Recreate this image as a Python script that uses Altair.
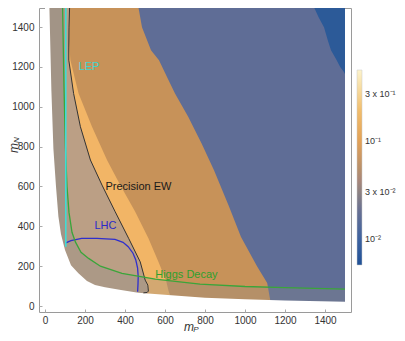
import altair as alt
import pandas as pd

# ---------------- data ----------------
M_MIN, M_MAX = 0, 1500
X_TICKS = [0, 200, 400, 600, 800, 1000, 1200, 1400]
Y_TICKS = [0, 200, 400, 600, 800, 1000, 1200, 1400]

# lower edge of the scanned domain (white below)
LOW_X = [0, 22, 32, 42, 55, 67, 80, 100, 130, 167, 210, 250, 300, 380, 466, 615, 800, 1000, 1200, 1500]
LOW_Y = [1500, 1500, 1080, 790, 600, 450, 360, 281, 205, 164, 125, 105, 94, 80, 67, 55, 42, 34, 28, 21]

# right edge of the orange (3e-2 .. 1e-1) band
OR_Y = [0, 30, 115, 200, 346, 500, 682, 816, 950, 1067, 1150, 1234, 1284, 1400, 1500]
OR_X = [1130, 1126, 1111, 1060, 980, 920, 845, 783, 716, 650, 610, 570, 530, 485, 467]

# light orange (> 1e-1) band
BAND_Y = [55, 75, 130, 222, 340, 473, 607, 733, 900, 1067, 1234, 1330]
BAND_L = [515, 517, 501, 476, 418, 351, 285, 227, 177, 143, 119, 120]
BAND_R = [625, 618, 605, 567, 517, 451, 376, 310, 235, 168, 127, 120]

# dark blue patch (< 1e-2), top right
DB_Y = [1165, 1178, 1200, 1240, 1284, 1330, 1400, 1450, 1500]
DB_X = [1500, 1492, 1476, 1455, 1430, 1415, 1395, 1368, 1345]

# constraint curves
PEW_Y = [1500, 1400, 1300, 1234, 1067, 900, 733, 607, 473, 340, 222, 130, 105, 75, 68, 66]
PEW_X = [123, 120, 119, 119, 143, 177, 227, 285, 351, 418, 476, 501, 514, 517, 510, 492]

LHC_X = [104, 130, 183, 260, 350, 390, 416, 440, 454, 463, 466, 465, 463]
LHC_Y = [317, 328, 340, 340, 335, 320, 298, 265, 231, 190, 147, 110, 72]

H_X = [88, 95, 102, 110, 120, 135, 152, 180, 218, 277, 385, 551, 775, 1000, 1200, 1500]
H_Y = [1500, 1100, 800, 600, 470, 370, 322, 270, 239, 200, 164, 135, 110, 98, 92, 85]

LEP_X = 104
LEP_Y = [297, 1500]

LABELS = ["LEP", "Precision EW", "LHC", "Higgs Decay"]
LABEL_X = [168, 302, 247, 551]
LABEL_Y = [1200, 597, 401, 155]
LABEL_C = ["#3fd6d2", "#1a1a1a", "#2a2ac8", "#2ea02e"]

# colour bar
CB_TICKS = [0.01, 0.03, 0.1, 0.3]
CB_STOPS = [0.0055, 0.01, 0.02, 0.03, 0.05, 0.1, 0.2, 0.3, 0.52]
CB_COLORS = ["#1f5197", "#3d62a0", "#6a7192", "#8d8282", "#b68f6c",
             "#e3a257", "#f1bd6c", "#f6d594", "#fdf3cc"]

# ---------------- styling ----------------
BLUEGREY = "#5f6d96"
DARKBLUE = "#2c5a98"
ORANGE = "#c79259"
LIGHT = "#f2b566"
FONT = "Liberation Sans"

xs = alt.Scale(domain=[-30, 1530], nice=False, zero=False)
ys = alt.Scale(domain=[-30, 1496], nice=False, zero=False)

xaxis = alt.Axis(values=X_TICKS, title=None, grid=False, domain=False, format="d",
                 offset=-3, tickSize=3, tickColor="#aaa", labelPadding=3,
                 labelFontSize=10, labelColor="#333", labelFont=FONT)
yaxis = alt.Axis(values=Y_TICKS, title=None, grid=False, domain=False, format="d",
                 offset=-3, tickSize=3, tickColor="#aaa", labelPadding=5,
                 labelFontSize=10, labelColor="#333", labelFont=FONT)


def X(f, **kw):
    return alt.X(f, scale=xs, axis=xaxis, **kw)


def Y(f, **kw):
    return alt.Y(f, scale=ys, axis=yaxis, **kw)


one = pd.DataFrame({"a": [M_MIN], "b": [M_MAX]})

base = alt.Chart(one).mark_rect(color=BLUEGREY, clip=True).encode(
    x=X("a:Q"), x2="b:Q", y=Y("a:Q"), y2="b:Q")

orange = alt.Chart(pd.DataFrame({"y": OR_Y, "x": OR_X})).mark_area(
    orient="horizontal", color=ORANGE, clip=True).encode(
    y=Y("y:Q"), x=X("x:Q"), x2=alt.datum(M_MIN))

band = alt.Chart(pd.DataFrame({"y": BAND_Y, "l": BAND_L, "r": BAND_R})).mark_area(
    orient="horizontal", color=LIGHT, clip=True).encode(
    y=Y("y:Q"), x=X("l:Q"), x2="r:Q")

dark = alt.Chart(pd.DataFrame({"y": DB_Y, "x": DB_X})).mark_area(
    orient="horizontal", color=DARKBLUE, clip=True).encode(
    y=Y("y:Q"), x=X("x:Q"), x2=alt.datum(M_MAX))

# translucent excluded regions
pew_fill = alt.Chart(pd.DataFrame({"y": PEW_Y, "x": PEW_X})).mark_area(
    orient="horizontal", color="#a8b6cc", opacity=0.38, clip=True).encode(
    y=Y("y:Q"), x=X("x:Q"), x2=alt.datum(M_MIN))

hx = [M_MIN] + H_X
hy = [H_Y[0]] + H_Y
higgs_fill = alt.Chart(pd.DataFrame({"x": hx, "y": hy})).mark_area(
    color="#8a8a8a", opacity=0.3, clip=True).encode(
    x=X("x:Q"), y=Y("y:Q"), y2=alt.datum(M_MIN))

lhc_fill = alt.Chart(pd.DataFrame({"x": LHC_X, "y": LHC_Y, "i": range(len(LHC_X))})).mark_area(
    color="#e6e4dc", opacity=0.3, clip=True).encode(
    x=X("x:Q"), y=Y("y:Q"), y2=alt.datum(M_MIN), order="i:Q")

lep_fill = alt.Chart(pd.DataFrame({"x": [M_MIN], "x2": [LEP_X], "y": [LEP_Y[0]], "y2": [LEP_Y[1]]})).mark_rect(
    color="#8a8a8a", opacity=0.28, clip=True).encode(
    x=X("x:Q"), x2="x2:Q", y=Y("y:Q"), y2="y2:Q")

mask = alt.Chart(pd.DataFrame({"x": LOW_X, "y": LOW_Y})).mark_area(
    color="white", clip=True).encode(
    x=X("x:Q"), y=Y("y:Q"), y2=alt.datum(M_MIN))

# curves
pew_line = alt.Chart(pd.DataFrame({"y": PEW_Y, "x": PEW_X, "i": range(len(PEW_Y))})).mark_line(
    color="#333333", strokeWidth=1, clip=True).encode(
    x=X("x:Q"), y=Y("y:Q"), order="i:Q")
lhc_line = alt.Chart(pd.DataFrame({"x": LHC_X, "y": LHC_Y, "i": range(len(LHC_X))})).mark_line(
    color="#2f2fcc", strokeWidth=1.3, clip=True).encode(
    x=X("x:Q"), y=Y("y:Q"), order="i:Q")
higgs_line = alt.Chart(pd.DataFrame({"x": H_X, "y": H_Y, "i": range(len(H_X))})).mark_line(
    color="#3aa53a", strokeWidth=1.3, clip=True).encode(
    x=X("x:Q"), y=Y("y:Q"), order="i:Q")
lep_line = alt.Chart(pd.DataFrame({"x": [LEP_X, LEP_X], "y": LEP_Y, "i": [0, 1]})).mark_line(
    color="#40dcd4", strokeWidth=1.6, clip=True).encode(
    x=X("x:Q"), y=Y("y:Q"), order="i:Q")

labels = alt.Chart(pd.DataFrame({"t": LABELS, "x": LABEL_X, "y": LABEL_Y, "c": LABEL_C})).mark_text(
    align="left", baseline="middle", font=FONT, fontSize=11).encode(
    x=X("x:Q"), y=Y("y:Q"), text="t:N", color=alt.Color("c:N", scale=None))

# colour bar (legend of an invisible layer)
cscale = alt.Scale(type="log", domain=CB_STOPS, range=CB_COLORS)
label_expr = ("datum.value < 0.015 ? '10⁻²' : datum.value < 0.05 ? '3 x 10⁻²' : "
              "datum.value < 0.15 ? '10⁻¹' : '3 x 10⁻¹'")
cbar = alt.Chart(pd.DataFrame({"v": CB_TICKS})).mark_point(size=0, opacity=0, clip=True).encode(
    x=alt.datum(-1000), y=alt.datum(-1000),
    fill=alt.Fill("v:Q", scale=cscale, legend=alt.Legend(
        orient="none", legendX=318, legendY=62, direction="vertical",
        gradientLength=195, gradientThickness=5, values=CB_TICKS,
        labelExpr=label_expr, labelFontSize=9, labelColor="#333", labelFont=FONT,
        gradientStrokeColor="#c8c8c8", gradientStrokeWidth=0.5, labelOffset=3,
        labelOverlap=False, title=None)))

# axis titles (italic m with subscript)
tx = alt.Chart(one).mark_text(text="m", font=FONT, fontStyle="italic", fontSize=12,
                              baseline="middle", color="#333").encode(x=alt.value(150), y=alt.value(319))
txs = alt.Chart(one).mark_text(text="P", font=FONT, fontStyle="italic", fontSize=8,
                               baseline="middle", color="#333").encode(x=alt.value(157), y=alt.value(322))
ty = alt.Chart(one).mark_text(text="m", font=FONT, fontStyle="italic", fontSize=12, angle=270,
                              baseline="middle", color="#333").encode(x=alt.value(-25), y=alt.value(140))
tys = alt.Chart(one).mark_text(text="N", font=FONT, fontStyle="italic", fontSize=8, angle=270,
                               baseline="middle", color="#333").encode(x=alt.value(-22), y=alt.value(132))

chart = alt.layer(
    base, orange, band, dark, pew_fill, higgs_fill, lhc_fill, lep_fill, mask,
    pew_line, lhc_line, higgs_line, lep_line, labels, cbar, tx, txs, ty, tys
).properties(
    width=312, height=304,
    autosize=alt.AutoSizeParams(type="none"),
    padding={"left": 31, "top": 0, "right": 46, "bottom": 21},
).configure_view(stroke="#9a9a9a", strokeWidth=1)

chart.save("out.html", embed_options={"renderer": "svg", "actions": False})
